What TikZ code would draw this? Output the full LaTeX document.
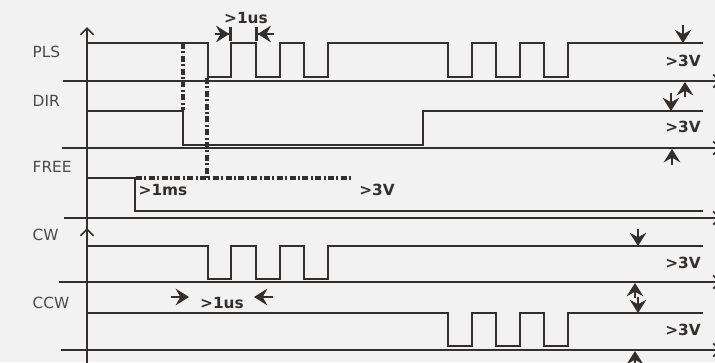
\documentclass[tikz,border=0pt]{standalone}
\usepackage{fontspec}
\setmainfont{DejaVu Sans}
\usetikzlibrary{arrows.meta}
\definecolor{ink}{HTML}{342E2C}
\definecolor{txt}{HTML}{4A4A4A}
\definecolor{bg}{HTML}{F2F2F2}
\tikzset{
  sig/.style={ink, line width=1.6pt, line join=miter},
  base/.style={ink, line width=1.6pt, -{Straight Barb[length=5pt,width=10pt,line width=1.2pt]}},
  guide/.style={ink, line width=2.4pt, dash pattern=on 4.5pt off 1.8pt on 1.5pt off 1.8pt},
  signame/.style={anchor=west, text=txt, font=\fontsize{11.5}{13}\selectfont},
  meas/.style={text=ink, font=\bfseries\fontsize{11.5}{13}\selectfont},
  tick/.style={ink, line width=2pt, -{Stealth[length=10pt,width=12.5pt,inset=3.5pt]}},
  tickbar/.style={ink, line width=2pt, -{Stealth[length=10pt,width=12.5pt,inset=3.5pt]Bar[width=10pt,line width=2pt]}},
}
\begin{document}
\begin{tikzpicture}[x=0.75pt, y=-0.75pt]
\fill[bg] (0,0) rectangle (715,362);
\useasboundingbox (0,0) rectangle (715,362);
\clip (0,0) rectangle (715,362);

% axes
\draw[base] (87,230) -- (87,27);
\draw[base] (87,366) -- (87,228);

% base lines
\draw[base] (63,81) -- (721,81);
\draw[base] (62,148) -- (721,148);
\draw[base] (64,218) -- (721,218);
\draw[base] (59,282) -- (721,282);
\draw[base] (61,350) -- (721,350);

% signal names
\node[signame] (pls) at (28,52) {PLS};
\node[signame] (dir) at (28,101) {DIR};
\node[signame] (free) at (28,167) {FREE};
\node[signame] (cw) at (28,235) {CW};
\node[signame] (ccw) at (28,303) {CCW};

% PLS
\draw[sig] (87,43) -- (208,43) -- (208,77) -- (231,77) -- (231,43) -- (256,43) -- (256,77)
  -- (280,77) -- (280,43) -- (304,43) -- (304,77) -- (328,77) -- (328,43) -- (448,43)
  -- (448,77) -- (472,77) -- (472,43) -- (496,43) -- (496,77) -- (520,77) -- (520,43)
  -- (544,43) -- (544,77) -- (568,77) -- (568,43) -- (703,43);
% DIR
\draw[sig] (87,111) -- (183,111) -- (183,145) -- (423,145) -- (423,111) -- (703,111);
% FREE
\draw[sig] (87,178) -- (135,178) -- (135,211) -- (703,211);
% CW
\draw[sig] (87,246) -- (208,246) -- (208,279) -- (231,279) -- (231,246) -- (256,246) -- (256,279)
  -- (280,279) -- (280,246) -- (304,246) -- (304,279) -- (328,279) -- (328,246) -- (703,246);
% CCW
\draw[sig] (87,313) -- (448,313) -- (448,346) -- (472,346) -- (472,313) -- (496,313) -- (496,346)
  -- (520,346) -- (520,313) -- (544,313) -- (544,346) -- (568,346) -- (568,313) -- (703,313);

% timing guides
\draw[guide] (183,43) -- (183,110);
\draw[guide] (207,78) -- (207,178);
\draw[guide] (136,178) -- (353,178);

% pulse width marks
\draw[tickbar] (215,34) -- (232,34);
\draw[tickbar] (274,34) -- (255,34);
\node[meas] (usa) at (246,18) {>1us};
\draw[tick] (171,297) -- (189,297);
\draw[tick] (273,297) -- (254,297);
\node[meas] (usb) at (222,303) {>1us};
\node[meas] (ms) at (163,190) {>1ms};

% level marks
\draw[tick] (683,25) -- (683,43);
\draw[tick] (685,97) -- (685,82);
\node[meas] (vpls) at (683,61) {>3V};
\draw[tick] (671,93) -- (671,111);
\draw[tick] (672,165) -- (672,149);
\node[meas] (vdir) at (683,127) {>3V};
\node[meas] (vfree) at (377,190) {>3V};
\draw[tick] (638,229) -- (638,246);
\draw[tick] (635,298) -- (635,283);
\node[meas] (vcw) at (683,263) {>3V};
\draw[tick] (638,297) -- (638,313);
\draw[tick] (635,367) -- (635,351);
\node[meas] (vccw) at (683,330) {>3V};
\end{tikzpicture}
\end{document}
